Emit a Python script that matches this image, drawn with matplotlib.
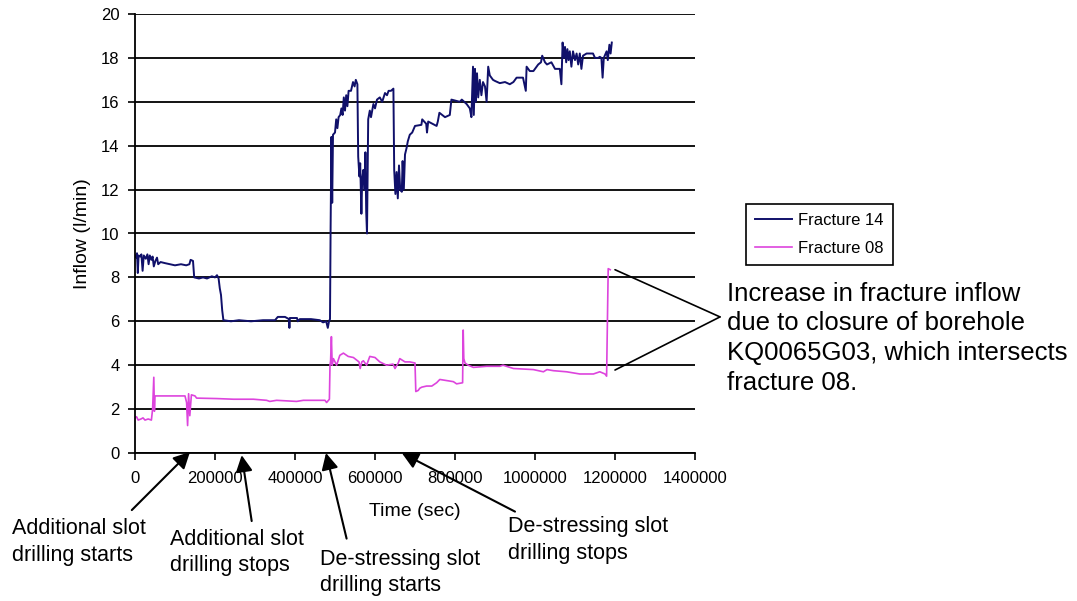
import matplotlib
matplotlib.use('Agg')
import matplotlib.pyplot as plt

plt.rcParams['font.family'] = ['Liberation Sans', 'DejaVu Sans']

# Fracture 14 (time in sec, inflow in l/min)
f14_time = [0, 3000, 5000, 7000, 9000, 13000, 16000, 19000, 22000, 27000, 31000, 34000, 37000,
            41000, 44000, 47000, 51000, 55000, 58000, 64000, 75000, 88000, 100000, 115000,
            128000, 136000, 139000, 145000, 148000, 160000, 170000, 180000, 192000, 200000,
            205000, 209000, 212000, 215000, 218000, 221000, 240000, 260000, 290000, 320000,
            350000, 357000, 375000, 385000, 386000, 387000, 405000, 407000, 412000, 440000,
            462000, 470000, 478000, 482000, 485000, 487500, 489000, 491000, 493000, 495000,
            500000, 503000, 506000, 509000, 513000, 516000, 519000, 522000, 525000, 528000,
            531000, 534000, 540000, 545000, 549000, 552000, 556000, 558000, 561000, 563000,
            566000, 568000, 571000, 574000, 576000, 578000, 580000, 583000, 587000, 590000,
            596000, 600000, 605000, 612000, 618000, 625000, 630000, 634000, 640000, 646000,
            648000, 651000, 654000, 657000, 660000, 663000, 667000, 669000, 672000, 675000,
            679000, 682000, 687000, 693000, 700000, 716000, 718000, 728000, 730000, 733000,
            754000, 757000, 761000, 775000, 787000, 791000, 812000, 817000, 829000, 837000,
            841000, 845000, 847000, 850000, 852000, 855000, 858000, 862000, 866000, 870000,
            875000, 879000, 883000, 887000, 895000, 900000, 912000, 925000, 937000, 946000,
            954000, 970000, 977000, 979000, 987000, 996000, 1000000, 1008000, 1015000, 1018000,
            1025000, 1030000, 1041000, 1050000, 1062000, 1066000, 1069000, 1072000, 1075000,
            1078000, 1081000, 1084000, 1087000, 1091000, 1095000, 1100000, 1104000, 1108000,
            1112000, 1116000, 1120000, 1129000, 1145000, 1150000, 1158000, 1162000, 1166000,
            1169000, 1172000, 1179000, 1182000, 1186000, 1189000, 1192000]
f14_flow = [9.0, 8.9, 9.1, 8.2, 9.0, 8.95, 9.05, 8.3, 9.0, 8.85, 9.05, 8.6, 9.0,
            8.8, 8.95, 8.5, 8.75, 8.9, 8.6, 8.7, 8.65, 8.6, 8.55, 8.6,
            8.55, 8.6, 8.8, 8.75, 8.0, 7.95, 8.0, 7.95, 8.05, 8.0,
            8.1, 7.95, 7.5, 7.2, 6.5, 6.05, 6.0, 6.05, 6.0, 6.05,
            6.05, 6.2, 6.2, 6.1, 5.7, 6.15, 6.15, 6.0, 6.1, 6.1,
            6.05, 5.95, 6.0, 5.7, 6.0, 6.1, 10.2, 14.4, 11.4, 14.5,
            14.6, 15.2, 14.8, 15.3, 15.4, 15.7, 15.4, 16.2, 15.6, 16.3,
            15.8, 16.5, 16.5, 16.9, 16.7, 17.0, 16.8, 13.5, 12.6, 13.2,
            10.9, 12.5, 12.9, 12.0, 13.7, 11.0, 10.0, 15.2, 15.6, 15.3,
            15.9, 15.7, 16.1, 16.2, 16.0, 16.4, 16.3, 16.5, 16.5, 16.6,
            12.9, 11.8, 12.8, 11.6, 13.1, 12.0, 11.9, 13.3, 12.0, 13.6,
            13.9, 14.2, 14.5, 14.6, 14.9, 14.95, 15.2, 15.0, 14.6, 15.1,
            14.9, 15.1, 15.5, 15.3, 15.4, 16.1, 16.0, 16.1, 15.9, 15.7,
            15.3, 17.6, 15.4, 17.5, 16.0, 17.3, 16.2, 17.0, 16.3, 16.9,
            16.7, 16.0, 17.6, 17.2, 17.0, 16.95, 16.85, 16.9, 16.8, 16.9,
            17.1, 17.1, 16.5, 17.6, 17.4, 17.4, 17.5, 17.7, 17.8, 18.1,
            17.8, 17.7, 17.8, 17.5, 17.5, 16.8, 18.7, 18.0, 18.5,
            17.8, 18.4, 17.9, 18.3, 17.6, 18.3, 17.9, 18.2, 17.7,
            18.2, 17.5, 18.1, 18.2, 18.2, 18.0, 18.0, 18.05, 18.0,
            17.1, 18.0, 18.3, 17.9, 18.6, 18.2, 18.7]

# Fracture 08
f08_time = [0, 4000, 8000, 15000, 20000, 25000, 33000, 41000, 44000, 47000, 48500, 50000,
            62000, 95000, 125000, 129000, 131500, 134000, 137000, 141000, 150000, 154000,
            204000, 246000, 296000, 329000, 337000, 354000, 404000, 421000, 475000, 479000,
            486000, 487500, 489000, 491000, 493000, 496000, 504000, 512000, 521000, 533000,
            546000, 560000, 563000, 567000, 571000, 579000, 587000, 600000, 612000, 629000,
            645000, 650000, 658000, 662000, 675000, 687000, 700000, 702000, 708000, 712000,
            717000, 729000, 742000, 754000, 762000, 779000, 796000, 804000, 819000, 820500,
            822000, 825000, 833000, 846000, 879000, 912000, 920000, 946000, 996000, 1021000,
            1030000, 1046000, 1079000, 1112000, 1146000, 1162000, 1175000, 1179000, 1183000,
            1188000]
f08_flow = [1.6, 1.65, 1.5, 1.55, 1.6, 1.5, 1.55, 1.5, 2.0, 3.45, 1.9, 2.6,
            2.6, 2.6, 2.6, 2.3, 1.25, 2.7, 1.7, 2.65, 2.6, 2.5,
            2.48, 2.45, 2.45, 2.4, 2.35, 2.4, 2.35, 2.4, 2.4, 2.3,
            2.45, 4.0, 4.2, 5.3, 4.0, 4.3, 4.0, 4.45, 4.55, 4.4,
            4.35, 4.15, 3.85, 4.15, 4.2, 4.0, 4.4, 4.35, 4.15, 4.0,
            4.05, 3.85, 4.1, 4.3, 4.15, 4.15, 4.1, 2.8, 2.85, 2.95,
            3.0, 3.05, 3.05, 3.2, 3.35, 3.3, 3.25, 3.15, 3.2, 5.6,
            4.3, 4.1, 4.0, 3.9, 3.95, 3.95, 4.0, 3.85, 3.8, 3.7,
            3.8, 3.75, 3.7, 3.6, 3.6, 3.7, 3.6, 3.5, 8.4,
            8.35]

x_ticks = [0, 200000, 400000, 600000, 800000, 1000000, 1200000, 1400000]
x_labels = ['0', '200000', '400000', '600000', '800000', '1000000', '1200000', '1400000']
y_ticks = [0, 2, 4, 6, 8, 10, 12, 14, 16, 18, 20]

fig = plt.figure(figsize=(10.77, 6.01), dpi=100)
ax = fig.add_axes([135 / 1077, 148 / 601, 560 / 1077, 439 / 601])

ax.plot(f14_time, f14_flow, color='#10106a', lw=1.4, label='Fracture 14')
ax.plot(f08_time, f08_flow, color='#dd44dd', lw=1.2, label='Fracture 08')

ax.set_xlim(0, 1400000)
ax.set_ylim(0, 20)
ax.set_xticks(x_ticks)
ax.set_xticklabels(x_labels)
ax.set_yticks(y_ticks)
ax.yaxis.grid(True, color='black', lw=1.3)
ax.set_axisbelow(True)
for s in ['top', 'right']:
    ax.spines[s].set_visible(False)
for s in ['left', 'bottom']:
    ax.spines[s].set_linewidth(1.3)
ax.tick_params(direction='out', length=5, width=1.2, labelsize=12)
ax.tick_params(axis='x', pad=8)
ax.tick_params(axis='y', pad=6)
ax.set_xlabel('Time (sec)', fontsize=14, labelpad=12)
ax.set_ylabel('Inflow (l/min)', fontsize=14, labelpad=7)

leg = ax.legend(loc='upper left', bbox_to_anchor=(745.7 / 1077, 1 - 204 / 601),
                bbox_transform=fig.transFigure, borderaxespad=0, fontsize=12,
                frameon=True, fancybox=False, edgecolor='black', framealpha=1,
                handlelength=2.2, handletextpad=0.4, labelspacing=0.75, borderpad=0.55)
leg.get_frame().set_linewidth(1.2)

# right-hand note with the two lines to the Fracture 08 jump
fig.text(726.7 / 1077, 1 - 338.3 / 601,
         'Increase in fracture inflow\ndue to closure of borehole\nKQ0065G03, which intersects\nfracture 08.',
         fontsize=18.5, ha='left', va='center', linespacing=1.3)
for yv in [8.35, 3.78]:
    ax.annotate('', xy=(1200000, yv), xytext=(1462500, 6.2),
                arrowprops=dict(arrowstyle='-', color='black', lw=1.2,
                                shrinkA=0, shrinkB=0), annotation_clip=False)

# event labels under the axis
events = ['Additional slot\ndrilling starts', 'Additional slot\ndrilling stops',
          'De-stressing slot\ndrilling starts', 'De-stressing slot\ndrilling stops']
text_pos = [(11.7, 541.7), (170, 552.5), (320, 572.5), (508, 540)]
heads = [(137500, 0.05), (266700, -0.1), (477500, 0.0), (667000, 0.0)]
tails = [(-8000, -2.6), (291700, -3.1), (529000, -3.9), (950000, -2.67)]
for txt, (px, py) in zip(events, text_pos):
    fig.text(px / 1077, 1 - py / 601, txt, fontsize=15.5, ha='left', va='center',
             linespacing=1.35)
for h, t in zip(heads, tails):
    ax.annotate('', xy=h, xytext=t,
                arrowprops=dict(arrowstyle='-|>,head_length=0.55,head_width=0.28',
                                mutation_scale=18, color='black', lw=1.5,
                                shrinkA=0, shrinkB=0), annotation_clip=False)

fig.savefig('out.png', dpi=100)
